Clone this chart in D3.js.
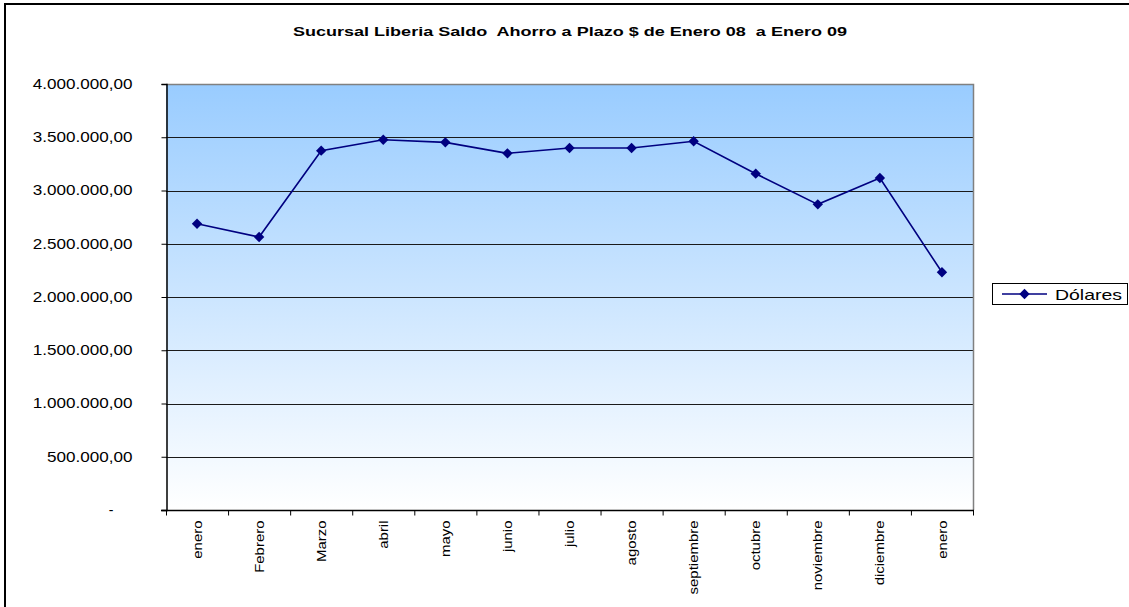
<!DOCTYPE html>
<html><head><meta charset="utf-8">
<script src="https://cdn.jsdelivr.net/npm/d3@7"></script>
<style>
body{margin:0;background:#fff;overflow:hidden}
text{font-family:Arial,"Liberation Sans",sans-serif;fill:#000}
</style>
</head><body>
<svg id="c" width="1129" height="607"></svg>
<script>
const categories = ["enero","Febrero","Marzo","abril","mayo","junio","julio","agosto","septiembre","octubre","noviembre","diciembre","enero"];
const values = [2688000,2563000,3374000,3477000,3452000,3349000,3399000,3399000,3462000,3158000,2870000,3117000,2232000];
const yTicks = [0,500000,1000000,1500000,2000000,2500000,3000000,3500000,4000000];
const seriesName = "Dólares";
const title = "Sucursal Liberia Saldo  Ahorro a Plazo $ de Enero 08  a Enero 09";

const svg = d3.select("#c");
const L = 166, R = 973, T = 84, B = 510;
const x = d3.scaleBand().domain(d3.range(categories.length)).range([L, R]);
const y = d3.scaleLinear().domain([0, 4000000]).range([B, T]);
const loc = d3.formatLocale({decimal:",", thousands:".", grouping:[3], currency:["",""]});
const fmt = loc.format(",.2f");

function stretch(sel, k){ sel.each(function(){ const l=this.getComputedTextLength(); this.setAttribute("textLength", l*k); this.setAttribute("lengthAdjust","spacingAndGlyphs"); }); }

// outer chart border
svg.append("rect").attr("x",5).attr("y",4).attr("width",1300).attr("height",800)
  .attr("fill","none").attr("stroke","#000").attr("stroke-width",2);

// gradient
const defs = svg.append("defs");
const g = defs.append("linearGradient").attr("id","bg").attr("x1",0).attr("y1",0).attr("x2",0).attr("y2",1);
g.append("stop").attr("offset","0%").attr("stop-color","#99ccff");
g.append("stop").attr("offset","100%").attr("stop-color","#ffffff");

svg.append("rect").attr("x",L).attr("y",T).attr("width",R-L).attr("height",B-T).attr("fill","url(#bg)");

// gridlines
svg.append("g").selectAll("line").data(yTicks.filter(v=>v>0 && v<4000000)).join("line")
  .attr("x1",L).attr("x2",R).attr("y1",d=>Math.round(y(d))+0.5).attr("y2",d=>Math.round(y(d))+0.5)
  .attr("stroke","#1a1a1a").attr("stroke-width",1);

// plot border top/right gray
svg.append("path").attr("d",`M${L},${T+0.5}H${R+0.5}V${B}`).attr("fill","none").attr("stroke","#808080").attr("stroke-width",1.5);

// y axis
const ya = svg.append("g").attr("transform",`translate(${L+0.5},0)`)
  .call(d3.axisLeft(y).tickValues(yTicks).tickSize(5).tickPadding(29).tickFormat(d=> d===0 ? "-" : fmt(d)));
ya.select(".domain").attr("stroke","#000").attr("stroke-width",1.5);
ya.selectAll(".tick line").attr("stroke","#000");
ya.selectAll("text").style("font-size","14px").attr("font-family","Arial, 'Liberation Sans', sans-serif");
ya.selectAll(".tick").filter(d=>d===0).select("text").attr("x",-53);
stretch(ya.selectAll("text").filter(d=>d!==0), 1.22);

// x axis
const xa = svg.append("g").attr("transform",`translate(0,${B+0.5})`);
xa.append("line").attr("x1",L-5).attr("x2",R+1).attr("stroke","#000").attr("stroke-width",1.5);
xa.selectAll(".tk").data(d3.range(categories.length+1)).join("line").attr("class","tk")
  .attr("x1",i=>(i<categories.length?x(i):R)+0.5).attr("x2",i=>(i<categories.length?x(i):R)+0.5)
  .attr("y1",0).attr("y2",5).attr("stroke","#000");
const xl = xa.selectAll(".lb").data(categories).join("text").attr("class","lb")
  .attr("transform",(d,i)=>`translate(${x(i)+x.bandwidth()/2},10) rotate(-90)`)
  .attr("text-anchor","end").attr("dy","0.35em").style("font-size","13px").text(d=>d);
stretch(xl, 1.15);

// line
const line = d3.line().x((d,i)=>x(i)+x.bandwidth()/2).y(d=>y(d));
svg.append("path").datum(values).attr("d",line).attr("fill","none").attr("stroke","#000080").attr("stroke-width",1.6);
const diamond = "M0,-5.2L5.2,0L0,5.2L-5.2,0Z";
svg.append("g").selectAll("path").data(values).join("path")
  .attr("transform",(d,i)=>`translate(${x(i)+x.bandwidth()/2},${y(d)})`)
  .attr("d",diamond).attr("fill","#000080");

// title
svg.append("text").attr("x",570).attr("y",36).attr("text-anchor","middle")
  .style("font-size","13.5px").style("font-weight","bold").style("white-space","pre")
  .attr("xml:space","preserve").attr("textLength",554).attr("lengthAdjust","spacingAndGlyphs").text(title);

// legend
const lg = svg.append("g");
lg.append("rect").attr("x",992.5).attr("y",283.5).attr("width",135).attr("height",21).attr("fill","#fff").attr("stroke","#000");
lg.append("line").attr("x1",1002).attr("x2",1047).attr("y1",294).attr("y2",294).attr("stroke","#000080").attr("stroke-width",1.6);
lg.append("path").attr("transform","translate(1024.5,294)").attr("d",diamond).attr("fill","#000080");
lg.append("text").attr("x",1055).attr("y",300).style("font-size","15px").attr("textLength",67).attr("lengthAdjust","spacingAndGlyphs").text(seriesName);
</script>
</body></html>
